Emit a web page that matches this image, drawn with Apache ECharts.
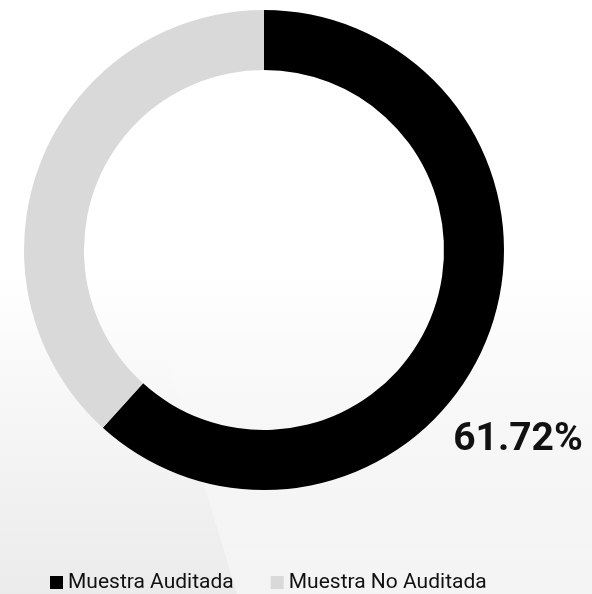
<!DOCTYPE html>
<html>
<head>
<meta charset="utf-8">
<script src="https://cdn.jsdelivr.net/npm/echarts@6/dist/echarts.min.js"></script>
<style>
  html, body { margin: 0; padding: 0; }
  #main { width: 592px; height: 594px; }
</style>
</head>
<body>
<div id="main"></div>
<script>
var categories = ['Muestra Auditada', 'Muestra No Auditada'];
var values = [61.72, 38.28];
var colors = ['#000000', '#d9d9d9'];

var myChart = echarts.init(document.getElementById('main'));

var data = categories.map(function(name, i){
    return {
        name: name,
        value: values[i],
        itemStyle: { color: colors[i] },
        label: { show: i === 0 }
    };
});

var option = {
    backgroundColor: {
        type: 'linear', x: 0, y: 0, x2: 0, y2: 1,
        colorStops: [
            { offset: 0, color: '#ffffff' },
            { offset: 0.45, color: '#ffffff' },
            { offset: 1, color: '#ebebeb' }
        ]
    },
    animation: false,
    // light glossy band on the right side of the background
    graphic: [{
        type: 'polygon',
        z: 0,
        silent: true,
        shape: { points: [[146, 290], [592, 290], [592, 594], [237, 594]] },
        style: {
            fill: {
                type: 'linear', x: 0, y: 0, x2: 0, y2: 1,
                colorStops: [
                    { offset: 0, color: 'rgba(255,255,255,0)' },
                    { offset: 1, color: 'rgba(255,255,255,0.45)' }
                ]
            }
        }
    }],
    legend: {
        data: categories,
        left: 45,
        top: 567,
        icon: 'rect',
        itemWidth: 13,
        itemHeight: 13,
        itemGap: 37,
        textStyle: {
            fontFamily: 'Roboto',
            fontSize: 21,
            color: '#111'
        }
    },
    series: [{
        type: 'pie',
        center: [264, 250],
        radius: [180, 240],
        startAngle: 90,
        clockwise: true,
        silent: true,
        data: data,
        label: {
            position: 'inside',
            overflow: 'none',
            formatter: function(p){ return p.value.toFixed(2) + '%'; },
            fontFamily: 'Roboto',
            fontWeight: 'bold',
            fontSize: 39,
            color: '#111'
        },
        labelLine: { show: false },
        labelLayout: function(){
            return { x: 518, y: 440, align: 'center', verticalAlign: 'middle' };
        }
    }]
};

myChart.setOption(option);
window.onresize = myChart.resize;
</script>
</body>
</html>
